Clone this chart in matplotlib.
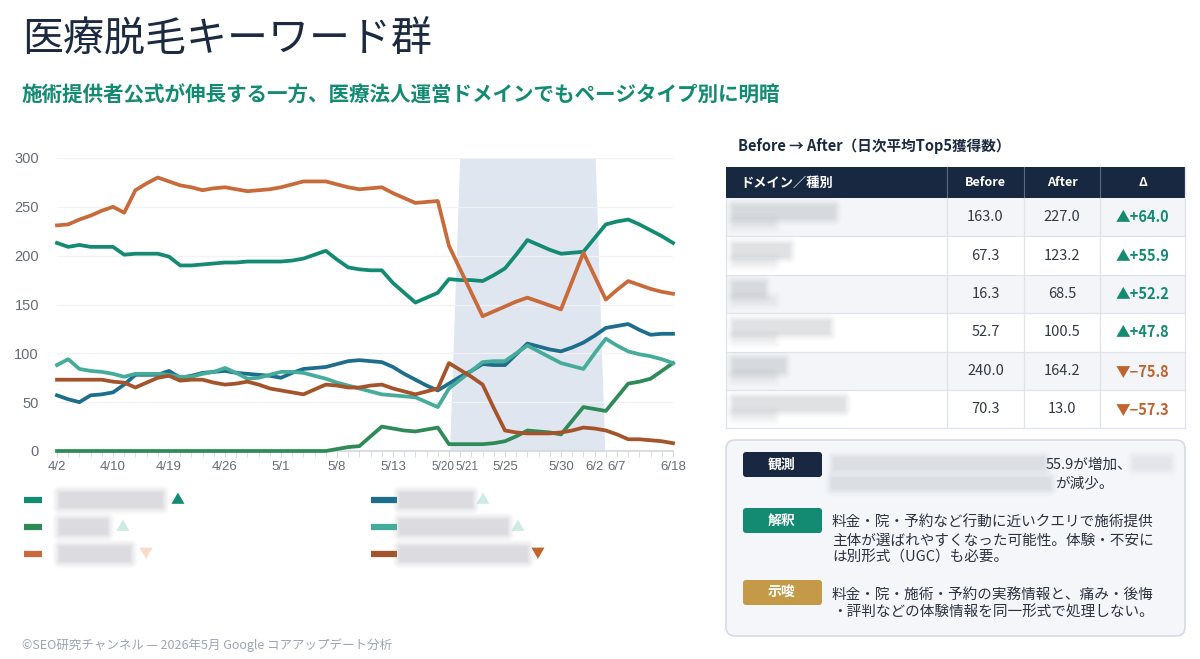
import matplotlib
matplotlib.use("Agg")
import matplotlib.pyplot as plt
from matplotlib.patches import Rectangle, FancyBboxPatch
from matplotlib.transforms import ScaledTranslation

plt.rcParams['font.family'] = ['Noto Sans CJK JP', 'DejaVu Sans']

# ---------------- data ----------------
dates = ['4/2', '4/3', '4/4', '4/6', '4/8', '4/10', '4/11', '4/13', '4/15', '4/17',
         '4/19', '4/20', '4/22', '4/23', '4/25', '4/26', '4/27', '4/28', '4/29', '4/30',
         '5/1', '5/2', '5/4', '5/5', '5/7', '5/8', '5/9', '5/10', '5/11', '5/12',
         '5/13', '5/15', '5/16', '5/18', '5/19', '5/20', '5/21', '5/22', '5/23', '5/24',
         '5/25', '5/26', '5/27', '5/28', '5/29', '5/30', '5/31', '6/1', '6/2', '6/4',
         '6/7', '6/9', '6/11', '6/13', '6/15', '6/18']
shown_dates = ['4/2', '4/10', '4/19', '4/26', '5/1', '5/8', '5/13', '5/20', '5/21',
               '5/25', '5/30', '6/2', '6/7', '6/18']
update_start = '5/21'
update_end = '6/2'

teal = [213, 209, 211, 209, 209, 209, 201, 202, 202, 202,
        199, 190, 190, 191, 192, 193, 193, 194, 194, 194,
        194, 195, 197, 201, 205, 196, 188, 186, 185, 185,
        172, 162, 152, 157, 162, 176, 175, 175, 174, 180,
        187, 201, 216, 211, 206, 202, 203, 204, 218, 232,
        235, 237, 232, 226, 220, 213]
green = [0] * 25 + [2, 4, 5, 15, 25, 23, 21, 20, 22, 24,
                    7, 7, 7, 7, 8, 10, 15, 21, 20, 19,
                    17, 31, 45, 43, 41, 55, 69, 71, 74, 82, 90]
orange = [231, 232, 237, 241, 246, 250, 244, 267, 274, 280,
          276, 272, 270, 267, 269, 270, 268, 266, 267, 268,
          270, 273, 276, 276, 276, 273, 270, 268, 269, 270,
          264, 259, 254, 255, 256, 210, 186, 162, 138, 143,
          148, 153, 157, 153, 149, 145, 174, 203, 179, 155,
          165, 174, 170, 166, 163, 161]
blue = [57, 53, 50, 57, 58, 60, 68, 78, 78, 78,
        82, 75, 77, 80, 81, 82, 80, 79, 78, 77,
        75, 80, 84, 85, 86, 89, 92, 93, 92, 91,
        86, 79, 73, 67, 62, 69, 76, 82, 89, 88,
        88, 99, 110, 107, 104, 102, 106, 111, 118, 126,
        128, 130, 124, 119, 120, 120]
light_teal = [88, 94, 84, 82, 81, 79, 76, 79, 79, 79,
              78, 76, 76, 79, 81, 85, 80, 74, 75, 78,
              81, 81, 80, 77, 74, 70, 67, 64, 61, 58,
              57, 56, 55, 50, 45, 64, 73, 82, 91, 92,
              92, 100, 108, 102, 96, 90, 87, 84, 100, 115,
              108, 102, 99, 97, 94, 90]
brown = [73, 73, 73, 73, 73, 71, 70, 65, 70, 75,
         77, 72, 73, 73, 70, 68, 69, 71, 68, 64,
         62, 60, 58, 63, 68, 67, 65, 65, 67, 68,
         64, 61, 58, 61, 64, 90, 83, 76, 68, 44,
         21, 19, 18, 18, 18, 19, 21, 24, 23, 21,
         17, 12, 12, 11, 10, 8]

before = [163.0, 67.3, 16.3, 52.7, 240.0, 70.3]
after = [227.0, 123.2, 68.5, 100.5, 164.2, 13.0]

notes_kaishaku = ['料金・院・予約など行動に近いクエリで施術提供',
                  '主体が選ばれやすくなった可能性。体験・不安に',
                  'は別形式（UGC）も必要。']
notes_shisa = ['料金・院・施術・予約の実務情報と、痛み・後悔',
               '・評判などの体験情報を同一形式で処理しない。']

# colours
C_TEAL = '#138a72'
C_GREEN = '#2e8b57'
C_ORANGE = '#c96a3b'
C_BLUE = '#1c6e8c'
C_LTEAL = '#45ab9b'
C_BROWN = '#a5532a'
UP = '#138a72'
DOWN = '#c0642f'
NAVY = '#172840'

series = [(teal, C_TEAL), (green, C_GREEN), (orange, C_ORANGE),
          (blue, C_BLUE), (light_teal, C_LTEAL), (brown, C_BROWN)]

# ---------------- figure ----------------
fig = plt.figure(figsize=(12, 6.59), dpi=100)
W, H = 1200, 659

ax = fig.add_axes([57 / W, 1 - 451 / H, 616 / W, 293 / H])
x = list(range(len(dates)))

# update period shading
s = dates.index(update_start)
e = dates.index(update_end)
ax.fill([s - 0.9, e + 0.95, e + 0.1, s], [0, 0, 300, 300], color='#dfe6ef', zorder=0, lw=0)

for vals, col in series:
    ax.plot(x, vals, color=col, lw=2.7, solid_joinstyle='round', clip_on=False, zorder=3)

ax.set_xlim(0, len(dates) - 1)
ax.set_ylim(0, 300)
ax.set_yticks(range(0, 301, 50))
ax.set_xticks([dates.index(d) for d in shown_dates])
ax.set_xticklabels(shown_dates)
ax.set_xticks(x, minor=True)
for sp in ['top', 'right', 'left']:
    ax.spines[sp].set_visible(False)
ax.spines['bottom'].set_color('#d3d8df')
ax.spines['bottom'].set_linewidth(1.2)
ax.grid(axis='y', color='#f0f2f5', lw=0.9)
ax.set_axisbelow(True)
ax.tick_params(axis='y', length=0, pad=13, labelsize=10.5, labelcolor='#666c75')
ax.tick_params(axis='x', which='both', length=4, color='#d3d8df', pad=3,
               labelsize=9.5, labelcolor='#666c75')
for lab in ax.get_xticklabels() + ax.get_yticklabels():
    lab.set_family('Liberation Sans')
# the two labels at the start of the update sit side by side: push them apart a little
for lab in ax.get_xticklabels():
    if lab.get_text() == '5/20':
        lab.set_transform(lab.get_transform() + ScaledTranslation(-4 / 72, 0, fig.dpi_scale_trans))
        lab.set_fontsize(8.5)
    if lab.get_text() == '5/21':
        lab.set_transform(lab.get_transform() + ScaledTranslation(5 / 72, 0, fig.dpi_scale_trans))
        lab.set_fontsize(8.5)

# ---------------- overlay for text and panels ----------------
ov = fig.add_axes([0, 0, 1, 1], facecolor='none')
ov.set_xlim(0, W)
ov.set_ylim(H, 0)
ov.axis('off')


def blur(x0, y0, w, h, color='#8d939c', strength=1.0):
    # soft grey smudge standing in for the blurred (redacted) text
    for k, a in enumerate([0.03, 0.04, 0.05, 0.06, 0.07, 0.08]):
        pad = (5 - k) * 1.4 + 0.5
        ov.add_patch(FancyBboxPatch((x0, y0), w, h, boxstyle=f'round,pad={pad}',
                                    fc=color, ec='none', alpha=a * strength, zorder=5))


ov.text(22, 40, '医療脱毛キーワード群', fontsize=29.5, color='#1b2a41', va='center', ha='left')
ov.text(22, 95, '施術提供者公式が伸長する一方、医療法人運営ドメインでもページタイプ別に明暗',
        fontsize=14.8, color='#138a72', fontweight='bold', va='center', ha='left')

# legend
leg_rows = [500, 527, 554]
legend_left = [(C_TEAL, 102, '▲', UP, 1.0), (C_GREEN, 47, '▲', '#9fd6cc', 0.5),
               (C_ORANGE, 70, '▼', '#f0b99a', 0.5)]
legend_right = [(C_BLUE, 72, '▲', '#9fd6cc', 0.5), (C_LTEAL, 107, '▲', '#9fd6cc', 0.5),
                (C_BROWN, 127, '▼', DOWN, 1.0)]
for (col, bw, mk, mkc, ma), yy in zip(legend_left, leg_rows):
    ov.plot([24, 42], [yy, yy], color=col, lw=4.5, solid_capstyle='butt')
    blur(60, yy - 7, bw, 14)
    ov.text(60 + bw + 9, yy, mk, color=mkc, alpha=ma, fontsize=10, va='center', ha='left')
for (col, bw, mk, mkc, ma), yy in zip(legend_right, leg_rows):
    ov.plot([371, 397], [yy, yy], color=col, lw=4.5, solid_capstyle='butt')
    blur(400, yy - 7, bw, 14)
    ov.text(400 + bw + 4, yy, mk, color=mkc, alpha=ma, fontsize=10, va='center', ha='left')

# table
ov.text(738, 146, 'Before → After（日次平均Top5獲得数）', fontsize=10.5, fontweight='bold',
        color='#1b2a41', va='center', ha='left')
cols = [726, 947, 1024, 1100, 1185]
hdr_top, hdr_bot = 167, 198
row_h = 38.4
ov.add_patch(Rectangle((cols[0], hdr_top), cols[-1] - cols[0], hdr_bot - hdr_top, fc=NAVY, ec='none'))
for cx in cols[1:-1]:
    ov.plot([cx, cx], [hdr_top, hdr_bot], color='#5d6b80', lw=0.8)
ov.text(740, (hdr_top + hdr_bot) / 2, 'ドメイン／種別', color='white', fontsize=9.5,
        fontweight='bold', va='center', ha='left')
for i, lab in enumerate(['Before', 'After', 'Δ']):
    ov.text((cols[i + 1] + cols[i + 2]) / 2, (hdr_top + hdr_bot) / 2, lab, color='white',
            fontsize=9, fontweight='bold', va='center', ha='center')
blur_w = [100, 55, 30, 95, 50, 110]
for r, (b, a) in enumerate(zip(before, after)):
    y0 = hdr_bot + r * row_h
    yc = y0 + row_h / 2
    fc = '#f3f5f8' if r % 2 == 0 else 'white'
    ov.add_patch(Rectangle((cols[0], y0), cols[-1] - cols[0], row_h, fc=fc, ec='none'))
    ov.plot([cols[0], cols[-1]], [y0 + row_h, y0 + row_h], color='#dfe3ea', lw=0.9)
    for cx in cols[1:-1]:
        ov.plot([cx, cx], [y0, y0 + row_h], color='#dfe3ea', lw=0.9)
    blur(734, yc - 11, blur_w[r], 12, strength=0.9)
    blur(734, yc + 4, 40, 5, strength=0.4)
    ov.text((cols[1] + cols[2]) / 2, yc, f'{b:.1f}', fontsize=10.5, color='#333a44',
            va='center', ha='center')
    ov.text((cols[2] + cols[3]) / 2, yc, f'{a:.1f}', fontsize=10.5, color='#333a44',
            va='center', ha='center')
    d = a - b
    txt = f'▲+{d:.1f}' if d > 0 else f'▼−{abs(d):.1f}'
    ov.text((cols[3] + cols[4]) / 2, yc, txt, fontsize=10.5, fontweight='bold',
            color=UP if d > 0 else DOWN, va='center', ha='center')
tbl_bot = hdr_bot + len(before) * row_h
ov.plot([cols[0], cols[0]], [hdr_bot, tbl_bot], color='#dfe3ea', lw=0.9)
ov.plot([cols[-1], cols[-1]], [hdr_top, tbl_bot], color='#dfe3ea', lw=0.9)

# notes box
ov.add_patch(FancyBboxPatch((726, 440), 459, 196, boxstyle='round,pad=0,rounding_size=9',
                            fc='#f4f6fa', ec='#d5dbe4', lw=1.2))
badges = [('観測', NAVY, 452), ('解釈', '#138a72', 508), ('示唆', '#c49a48', 580)]
for lab, col, by in badges:
    ov.add_patch(FancyBboxPatch((743, by), 79, 25, boxstyle='round,pad=0,rounding_size=3',
                                fc=col, ec='none'))
    ov.text(782, by + 12.5, lab, color='white', fontsize=10, fontweight='bold',
            va='center', ha='center')

blur(834, 458, 210, 11, strength=0.7)
ov.text(1046, 465, '55.9が増加、', fontsize=10.5, color='#2b3340', va='center', ha='left')
blur(1134, 458, 36, 11, strength=0.45)
blur(832, 478, 218, 11, strength=0.7)
ov.text(1055, 483, 'が減少。', fontsize=10.5, color='#2b3340', va='center', ha='left')

for k, line in enumerate(notes_kaishaku):
    ov.text(832, 523 + k * 17.5, line, fontsize=10.5, color='#2b3340', va='center', ha='left')
for k, line in enumerate(notes_shisa):
    ov.text(832, 595 + k * 17.5, line, fontsize=10.5, color='#2b3340', va='center', ha='left')

ov.text(22, 645, '©SEO研究チャンネル — 2026年5月 Google コアアップデート分析', fontsize=9,
        color='#9aa5b5', va='center', ha='left')

fig.savefig('out.png', dpi=100)
